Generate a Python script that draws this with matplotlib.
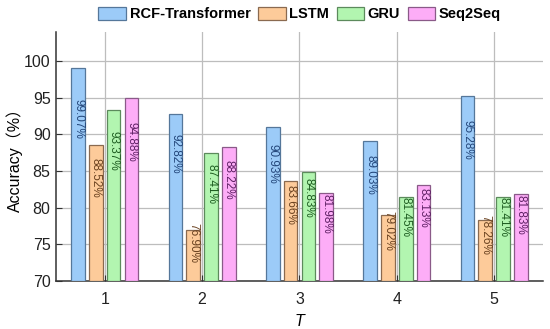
import matplotlib
matplotlib.use("Agg")
import matplotlib.pyplot as plt
import numpy as np

categories = [1, 2, 3, 4, 5]
series_names = ["RCF-Transformer", "LSTM", "GRU", "Seq2Seq"]
rcf = [99.07, 92.82, 90.93, 89.03, 95.28]
lstm = [88.52, 76.90, 83.66, 79.02, 78.26]
gru = [93.37, 87.41, 84.83, 81.45, 81.41]
seq2seq = [94.88, 88.22, 81.98, 83.13, 81.83]
yticks = [70, 75, 80, 85, 90, 95, 100]

face_colors = ["#9CCBF8", "#FDCB9A", "#B2F5B0", "#FDADF7"]
edge_colors = ["#55779A", "#8A6A50", "#5C8A5C", "#8A5A88"]
text_colors = ["#23467A", "#6A4220", "#1F5E22", "#5E2064"]

plt.rcParams['font.family'] = ['Liberation Sans', 'Noto Sans CJK SC', 'DejaVu Sans']

fig = plt.figure(figsize=(5.5, 3.29), dpi=100)
ax = fig.add_axes([0.102, 0.146, 0.885, 0.758])

x = np.arange(len(categories)) + 1
width = 0.14
step = 0.183
data = [rcf, lstm, gru, seq2seq]
ymin = 70
for i, vals in enumerate(data):
    off = (i - 1.5) * step
    ax.bar(x + off, np.array(vals) - ymin, width, bottom=ymin,
           color=face_colors[i], edgecolor=edge_colors[i], linewidth=0.9,
           label=series_names[i], zorder=3)
    for xi, v in zip(x + off, vals):
        yc = ymin + 0.76 * (v - ymin)
        ax.text(xi, yc, f"{v:.2f}%", rotation=-90, ha='center', va='center',
                fontsize=8.5, color=text_colors[i], zorder=4)

ax.set_xlim(0.5, 5.5)
ax.set_ylim(70, 104)
ax.set_xticks(x)
ax.set_xticklabels([str(c) for c in categories], fontsize=11.5, color='#222222')
ax.set_yticks(yticks)
ax.set_yticklabels([str(t) for t in yticks], fontsize=11.5, color='#222222')
ax.tick_params(axis='x', direction='in', length=4, width=0.8, color='#333333', pad=8)
ax.tick_params(axis='y', direction='in', length=4, width=0.8, color='#333333', pad=4)
ax.grid(True, color='#BDBDBD', linewidth=0.9, zorder=0)
ax.set_axisbelow(True)
for s in ['top', 'right']:
    ax.spines[s].set_visible(False)
for s in ['left', 'bottom']:
    ax.spines[s].set_color('#333333')
    ax.spines[s].set_linewidth(1.1)

ax.set_xlabel("T", fontsize=11.5, style='italic', labelpad=5)
ax.set_ylabel("Accuracy（%）", fontsize=11.5, labelpad=1)

leg = fig.legend(loc='center', bbox_to_anchor=(0.545, 0.957), ncol=4, frameon=False,
                 prop={'weight': 'bold', 'size': 10.5}, handlelength=1.9,
                 handleheight=1.0, handletextpad=0.25, columnspacing=0.5,
                 borderaxespad=0)

fig.savefig("out.png", dpi=100)
